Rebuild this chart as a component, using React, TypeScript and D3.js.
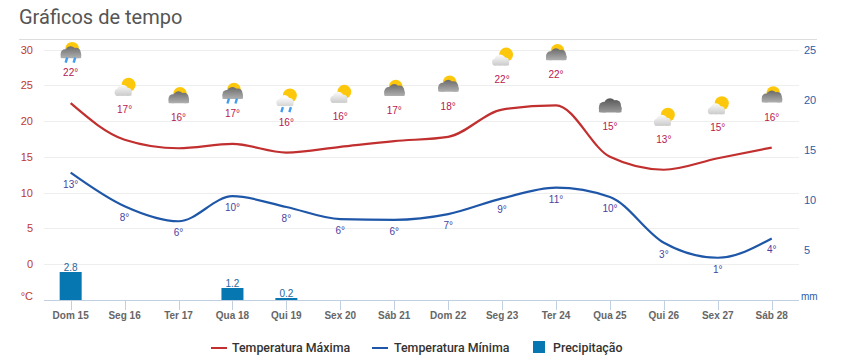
import React from "react";
import * as d3 from "d3";

const days = ["Dom 15","Seg 16","Ter 17","Qua 18","Qui 19","Sex 20","Sáb 21","Dom 22","Seg 23","Ter 24","Qua 25","Qui 26","Sex 27","Sáb 28"];
const tempMax = [22.5,17.4,16.2,16.8,15.6,16.4,17.2,17.8,21.6,22.2,15,13.2,14.8,16.3];
const tempMin = [12.8,8.1,6,9.5,8,6.3,6.2,7,9.2,10.7,9.4,3,0.9,3.6];
const maxLabels = [22,17,16,17,16,16,17,18,22,22,15,13,15,16];
const minLabels = [13,8,6,10,8,6,6,7,9,11,10,3,1,4];
const precip = [2.8,0,0,1.2,0.2,0,0,0,0,0,0,0,0,0];
const icons = ["darkRain","light","dark","darkRain","lightRain","light","dark","dark","light","dark","cloud","light","light","dark"];
const leftTicks = [30,25,20,15,10,5,0];
const rightTicks = [25,20,15,10,5];

const W = 842, H = 358;
const x = d3.scaleBand<string>().domain(days).range([44, 799]);
const cx = (d: string) => (x(d) as number) + x.bandwidth() / 2 - 0.3;
const yT = d3.scaleLinear().domain([-5, 30]).range([300, 49.5]);
const yP = d3.scaleLinear().domain([0, 25]).range([300, 50]);
const line = d3.line<number>().x((_, i) => cx(days[i])).y(d => yT(d)).curve(d3.curveMonotoneX);

const SANS = "Arial, 'Liberation Sans', sans-serif";
const LEGEND = "Roboto, sans-serif";

function DarkCloud({ fill }: { fill: string }) {
  return (
    <g fill={fill}>
      <circle cx={-5.5} cy={1.5} r={4.5} />
      <circle cx={0} cy={-0.5} r={5.5} />
      <circle cx={5.5} cy={0} r={4.5} />
      <circle cx={7} cy={2.5} r={3.5} />
      <rect x={-10} y={1.5} width={20.5} height={4.5} rx={1} />
    </g>
  );
}

function LightCloud({ fill, bottom }: { fill: string; bottom: number }) {
  return (
    <g fill={fill}>
      <circle cx={-6.5} cy={bottom - 3.5} r={3.5} />
      <circle cx={-2} cy={bottom - 5.5} r={5.5} />
      <circle cx={3} cy={bottom - 4} r={4} />
      <rect x={-9} y={bottom - 4} width={16} height={4} rx={1} />
    </g>
  );
}

function Icon({ kind, px, py }: { kind: string; px: number; py: number }) {
  return (
    <g transform={`translate(${px},${py})`}>
      {(kind === "dark" || kind === "darkRain") && (
        <g>
          <circle cx={1.5} cy={-3.5} r={6.8} fill="#fdc80c" />
          <DarkCloud fill="url(#gDark)" />
        </g>
      )}
      {kind === "cloud" && <g transform="translate(0,-0.5) scale(1.1,1.2)"><DarkCloud fill="url(#gCloud)" /></g>}
      {kind === "light" && (
        <g>
          <circle cx={4} cy={-4} r={7} fill="#fdc80c" />
          <LightCloud fill="url(#gLight)" bottom={7} />
        </g>
      )}
      {kind === "lightRain" && (
        <g>
          <circle cx={3.5} cy={-6} r={7} fill="#fdc80c" />
          <LightCloud fill="url(#gLight)" bottom={4.5} />
        </g>
      )}
      {(kind === "darkRain" || kind === "lightRain") && (
        <g stroke="#3f9cf0" strokeWidth={2.4}>
          <line x1={-3.5} y1={5.5} x2={-5} y2={10.5} />
          <line x1={4.5} y1={5.5} x2={3} y2={10.5} />
        </g>
      )}
    </g>
  );
}

export default function App() {
  return (
    <svg width={W} height={H} style={{ position: "absolute", left: 0, top: 0 }} fontFamily={SANS}>
      <defs>
        <linearGradient id="gDark" gradientUnits="userSpaceOnUse" x1="0" y1="-6" x2="0" y2="6">
          <stop offset="0" stopColor="#6a6a6a" />
          <stop offset="1" stopColor="#b0b0b0" />
        </linearGradient>
        <linearGradient id="gCloud" gradientUnits="userSpaceOnUse" x1="0" y1="-6" x2="0" y2="6">
          <stop offset="0" stopColor="#555" />
          <stop offset="1" stopColor="#9a9a9a" />
        </linearGradient>
        <linearGradient id="gLight" gradientUnits="userSpaceOnUse" x1="0" y1="-4" x2="0" y2="7">
          <stop offset="0" stopColor="#fbfbfb" />
          <stop offset="1" stopColor="#cbcbcb" />
        </linearGradient>
      </defs>
      <text x={19} y={24} fontSize={20} fill="#555" fontFamily={LEGEND}>Gráficos de tempo</text>
      <line x1={19} x2={817} y1={39.5} y2={39.5} stroke="#ddd" />
      {leftTicks.map(t => (
        <g key={t}>
          <line x1={44} x2={799} y1={Math.round(yT(t)) + 0.5} y2={Math.round(yT(t)) + 0.5} stroke="#eeeeee" />
          <text x={33} y={yT(t) + 4} textAnchor="end" fontSize={11} fill="#c0392b">{t}</text>
        </g>
      ))}
      <text x={33} y={300} textAnchor="end" fontSize={11} fill="#c0392b">°C</text>
      {rightTicks.map(t => (
        <text key={t} x={804} y={yP(t) + 4} fontSize={11} fill="#2a5ea8">{t}</text>
      ))}
      <text x={801} y={300} fontSize={10} fill="#2a5ea8">mm</text>
      {days.map((d, i) => precip[i] > 0 && (
        <g key={d}>
          <rect x={cx(d) - 11} width={22} y={yP(precip[i])} height={yP(0) - yP(precip[i])} fill="#0677b0" />
          <text x={cx(d)} y={yP(precip[i]) - 1} textAnchor="middle" fontSize={10} fill="#1f6a9e">{precip[i].toFixed(1)}</text>
        </g>
      ))}
      <line x1={44} x2={799} y1={300.5} y2={300.5} stroke="#c0d0e0" />
      {days.map(d => (
        <g key={d}>
          <line x1={Math.round(cx(d)) + 0.5} x2={Math.round(cx(d)) + 0.5} y1={300} y2={310} stroke="#c0d0e0" />
          <text x={cx(d)} y={319} textAnchor="middle" fontSize={10} fontWeight="bold" fill="#666">{d}</text>
        </g>
      ))}
      <path d={line(tempMax) as string} fill="none" stroke="#c12f2f" strokeWidth={2.2} />
      <path d={line(tempMin) as string} fill="none" stroke="#1f57a8" strokeWidth={2.2} />
      {days.map((d, i) => (
        <g key={d}>
          <Icon kind={icons[i]} px={cx(d)} py={yT(tempMax[i]) - 51} />
          <text x={cx(d)} y={yT(tempMax[i]) - 27} textAnchor="middle" fontSize={10} fill="#b8174f">{maxLabels[i]}°</text>
          <text x={cx(d)} y={yT(tempMin[i]) + 15} textAnchor="middle" fontSize={10} fill="#4a3f9f">{minLabels[i]}°</text>
        </g>
      ))}
      <line x1={211} x2={227} y1={348} y2={348} stroke="#c12f2f" strokeWidth={2} />
      <text x={232} y={352} fontSize={12.4} fontWeight="500" fill="#333" fontFamily={LEGEND}>Temperatura Máxima</text>
      <line x1={372} x2={388} y1={348} y2={348} stroke="#1f57a8" strokeWidth={2} />
      <text x={394} y={352} fontSize={12.4} fontWeight="500" fill="#333" fontFamily={LEGEND}>Temperatura Mínima</text>
      <rect x={533} y={341} width={12} height={12} fill="#0677b0" />
      <text x={553} y={352} fontSize={12.4} fontWeight="500" fill="#333" fontFamily={LEGEND}>Precipitação</text>
    </svg>
  );
}
